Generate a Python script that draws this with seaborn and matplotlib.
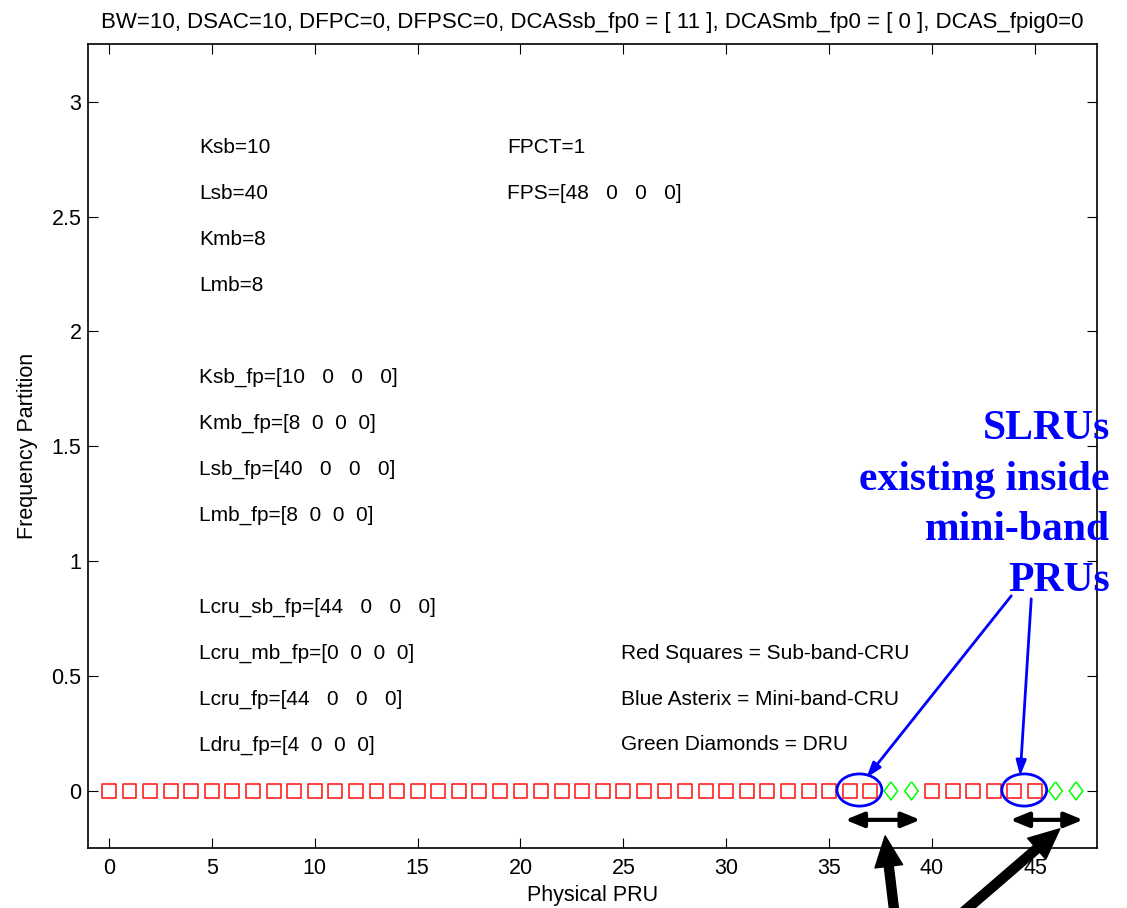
import matplotlib
matplotlib.use("Agg")
import matplotlib.pyplot as plt
from matplotlib.patches import Ellipse
from matplotlib.ticker import FormatStrFormatter
import seaborn as sns

# PRU positions on the 0 line
sub_band_cru = [0, 1, 2, 3, 4, 5, 6, 7, 8, 9, 10, 11, 12, 13, 14, 15, 16, 17, 18,
                19, 20, 21, 22, 23, 24, 25, 26, 27, 28, 29, 30, 31, 32, 33, 34, 35,
                36, 37, 40, 41, 42, 43, 44, 45]
dru = [38, 39, 46, 47]
partition_sb = [0] * len(sub_band_cru)
partition_dru = [0] * len(dru)

title = ("BW=10, DSAC=10, DFPC=0, DFPSC=0, DCASsb_fp0 = [ 11 ], "
         "DCASmb_fp0 = [ 0 ], DCAS_fpig0=0")

left_notes = ["Ksb=10", "Lsb=40", "Kmb=8", "Lmb=8",
              "Ksb_fp=[10   0   0   0]", "Kmb_fp=[8  0  0  0]",
              "Lsb_fp=[40   0   0   0]", "Lmb_fp=[8  0  0  0]",
              "Lcru_sb_fp=[44   0   0   0]", "Lcru_mb_fp=[0  0  0  0]",
              "Lcru_fp=[44   0   0   0]", "Ldru_fp=[4  0  0  0]"]
left_notes_y = [2.8, 2.6, 2.4, 2.2, 1.8, 1.6, 1.4, 1.2, 0.8, 0.6, 0.4, 0.2]
mid_notes = ["FPCT=1", "FPS=[48   0   0   0]"]
mid_notes_y = [2.8, 2.6]
legend_notes = ["Red Squares = Sub-band-CRU", "Blue Asterix = Mini-band-CRU",
                "Green Diamonds = DRU"]
legend_notes_y = [0.6, 0.4, 0.2]
callout = ["SLRUs", "existing inside", "mini-band", "PRUs"]

sns.set_style("ticks", {"xtick.direction": "in", "ytick.direction": "in",
                        "text.color": "black", "axes.labelcolor": "black",
                        "xtick.color": "black", "ytick.color": "black"})
plt.rcParams["font.family"] = ["Liberation Sans", "DejaVu Sans"]

fig = plt.figure(figsize=(11.27, 9.08), dpi=100)
ax = fig.add_axes([0.0784, 0.0657, 0.8947, 0.8855])

sns.scatterplot(x=sub_band_cru, y=partition_sb, ax=ax, marker="s", s=100,
                facecolors="none", edgecolors="#ff2020", linewidth=1.2)
diamond = [(0, 1), (0.75, 0), (0, -1), (-0.75, 0), (0, 1)]
sns.scatterplot(x=dru, y=partition_dru, ax=ax, marker=diamond, s=170,
                facecolors="none", edgecolors="#00ff00", linewidth=1.1)

ax.set_xlim(-1, 48)
ax.set_ylim(-0.25, 3.25)
ax.set_xticks(range(0, 46, 5))
ax.set_yticks([0, 0.5, 1, 1.5, 2, 2.5, 3])
ax.yaxis.set_major_formatter(FormatStrFormatter("%g"))
ax.tick_params(axis="both", which="both", direction="in", length=7.5, width=0.8,
               labelsize=15.5, top=True, right=True, color="black",
               labelcolor="black")
ax.tick_params(axis="x", pad=7)
ax.tick_params(axis="y", pad=5)
for sp in ax.spines.values():
    sp.set_visible(True)
    sp.set_linewidth(1.2)
    sp.set_color("black")

ax.set_title(title, fontsize=16, pad=12, color="black")
ax.set_xlabel("Physical PRU", fontsize=15.5, labelpad=4, color="black")
ax.set_ylabel("Frequency Partition", fontsize=15.5, labelpad=10, color="black")

for txt, yy in zip(left_notes, left_notes_y):
    ax.text(4.4, yy, txt, fontsize=15, va="center", ha="left", color="black")
for txt, yy in zip(mid_notes, mid_notes_y):
    ax.text(19.35, yy, txt, fontsize=15, va="center", ha="left", color="black")
for txt, yy in zip(legend_notes, legend_notes_y):
    ax.text(24.9, yy, txt, fontsize=15, va="center", ha="left", color="black")

# blue callout
for i, txt in enumerate(callout):
    ax.text(48.63, 1.5326 - i * 0.2207, txt, fontsize=30, fontweight="bold",
            family=["Liberation Serif", "DejaVu Serif"], color="#0000ff",
            ha="right", va="baseline", clip_on=False)

for cx in [36.47, 44.48]:
    ax.add_patch(Ellipse((cx, 0.004), 2.18, 0.14, fc="none", ec="#0000ff", lw=2))

blue_arrows = [((43.85, 0.849), (36.81, 0.057)), ((44.82, 0.836), (44.28, 0.065))]
for tail, tip in blue_arrows:
    ax.annotate("", xy=tip, xytext=tail,
                arrowprops=dict(arrowstyle="-|>,head_length=0.9,head_width=0.3",
                                color="#0000ff", lw=2, shrinkA=0, shrinkB=0))

span_arrows = [(35.78, 39.43), (43.80, 47.34)]
for x0, x1 in span_arrows:
    ax.annotate("", xy=(x1, -0.126), xytext=(x0, -0.126),
                arrowprops=dict(arrowstyle="<|-|>,head_length=1.1,head_width=0.45",
                                color="black", lw=3, shrinkA=0, shrinkB=0))

black_arrows = [((38.21, -0.56), (37.72, -0.196)), ((40.9, -0.575), (46.21, -0.165))]
for tail, tip in black_arrows:
    ax.annotate("", xy=tip, xytext=tail, annotation_clip=False,
                arrowprops=dict(facecolor="black", edgecolor="black", width=6.5,
                                headwidth=20, headlength=22, shrink=0))

fig.savefig("out.png", dpi=100)
